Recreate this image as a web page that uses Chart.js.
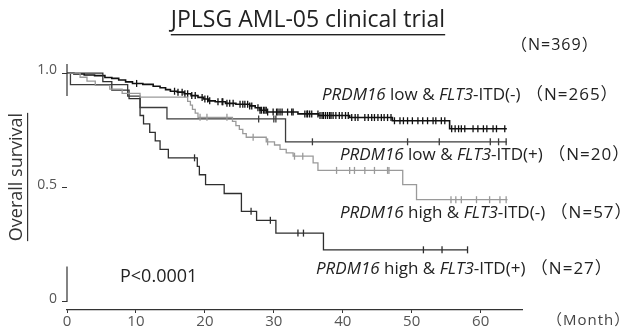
<!DOCTYPE html>
<html>
<head>
<meta charset="utf-8">
<script src="https://cdn.jsdelivr.net/npm/chart.js@4.4.0/dist/chart.umd.min.js"></script>
<style>
  body { margin: 0; background: #fff; }
  #wrap { width: 628px; height: 328px; position: relative; }
</style>
</head>
<body>
<div id="wrap"><canvas id="km"></canvas></div>
<script>
// tick values and labels
var xTicks = [0, 10, 20, 30, 40, 50, 60];
var yTicks = [0, 0.5, 1.0];
var yTickLabels = ["0", "0.5", "1.0"];

// PRDM16 low & FLT3-ITD(-)  N=265
var lowNegTime = [0, 1.0, 2.5, 4.0, 5.5, 6.5, 7.5, 8.5, 9.5, 11.0, 12.5, 13.5, 14.3, 15.0, 16.0, 17.0, 18.0, 19.0, 19.8, 20.5, 21.5, 23.0, 24.5, 26.5, 27.3, 28.0, 29.0, 33.5, 36.5, 41.0, 47.2, 55.5, 63.8];
var lowNegSurv = [1.0, 0.996, 0.992, 0.989, 0.981, 0.977, 0.970, 0.962, 0.955, 0.951, 0.943, 0.936, 0.928, 0.921, 0.917, 0.910, 0.902, 0.894, 0.887, 0.879, 0.875, 0.868, 0.864, 0.857, 0.849, 0.838, 0.830, 0.822, 0.815, 0.806, 0.792, 0.757, 0.757];
var lowNegCens = [10.1, 15.6, 16.1, 16.7, 17.1, 17.5, 18.1, 18.6, 19.6, 20.0, 20.4, 20.7, 21.9, 22.5, 22.6, 23.2, 23.6, 24.1,
  25.1, 25.5, 25.8, 26.2, 26.5, 26.8, 27.7, 28.0, 28.2, 28.5, 28.7, 28.9, 29.1, 29.9, 30.4, 30.6, 30.9, 31.2, 32.0, 32.6, 32.8,
  34.5, 34.8, 34.9, 35.2, 35.5, 36.4, 36.7, 37.0, 37.2, 37.5, 37.8, 38.1, 38.3, 38.6, 39.0, 39.5, 39.9, 40.4, 40.8, 41.3, 41.8, 42.2,
  43.2, 43.7, 44.2, 44.6, 45.1, 45.6, 46.0, 46.5, 47.0, 47.5, 48.3, 48.8, 49.4, 50.1, 50.9, 51.6, 52.3, 53.1, 53.5, 54.3, 54.8,
  55.8, 56.3, 56.8, 57.2, 57.7, 58.9, 59.6, 60.4, 60.9, 61.8, 62.3, 63.5];

// PRDM16 low & FLT3-ITD(+)  N=20
var lowPosTime = [0, 0.5, 8.8, 10.6, 14.5, 31.7, 63.8];
var lowPosSurv = [1.0, 0.95, 0.90, 0.85, 0.80, 0.70, 0.70];
var lowPosCens = [27.8, 30.0, 30.3, 35.6, 49.4, 54.0, 61.4, 62.6, 63.7];

// PRDM16 high & FLT3-ITD(-)  N=57
var highNegTime = [0, 1.9, 2.9, 4.1, 6.2, 8.0, 10.6, 17.5, 17.9, 18.2, 18.6, 19.0, 24.0, 24.5, 25.0, 25.5, 26.0, 28.9, 30.1, 30.9, 31.8, 32.8, 35.7, 36.4, 48.7, 50.7, 63.9];
var highNegSurv = [1.0, 0.982, 0.965, 0.947, 0.930, 0.912, 0.895, 0.877, 0.860, 0.842, 0.825, 0.807, 0.789, 0.771, 0.754, 0.736, 0.720, 0.700, 0.686, 0.667, 0.652, 0.637, 0.608, 0.575, 0.513, 0.447, 0.447];
var highNegCens = [19.3, 20.3, 23.2, 27.0, 29.1, 33.0, 34.2, 39.1, 41.0, 41.7, 43.2, 44.6, 46.5, 46.7, 55.7, 56.4, 57.2, 59.4, 61.3, 62.8, 63.7];

// PRDM16 high & FLT3-ITD(+)  N=27
var highPosTime = [0, 5.2, 6.5, 9.0, 10.6, 11.1, 12.0, 12.8, 13.5, 14.7, 18.9, 19.2, 20.1, 22.8, 25.3, 27.5, 30.3, 37.2, 58.1];
var highPosSurv = [1.0, 0.963, 0.926, 0.889, 0.815, 0.778, 0.741, 0.704, 0.667, 0.630, 0.593, 0.556, 0.513, 0.474, 0.396, 0.357, 0.301, 0.228, 0.228];
var highPosCens = [18.5, 26.7, 29.5, 33.5, 34.3, 51.7, 54.4, 58.1];

function steps(times, surv) {
  return times.map(function (t, i) { return { x: t, y: surv[i] }; });
}
function survAt(times, surv, t) {
  var s = surv[0];
  for (var i = 0; i < times.length; i++) {
    if (times[i] <= t) s = surv[i];
  }
  return s;
}
function censors(times, surv, cens) {
  return cens.map(function (t) { return { x: t, y: survAt(times, surv, t) }; });
}

function curve(times, surv, color, width) {
  return {
    data: steps(times, surv), stepped: true, borderColor: color, borderWidth: width,
    pointRadius: 0, fill: false
  };
}
function marks(times, surv, cens, color) {
  return {
    data: censors(times, surv, cens), showLine: false, pointStyle: 'line', rotation: 90,
    pointRadius: 3.5, borderColor: color, borderWidth: 1.3, backgroundColor: color
  };
}

var textFont = '"Open Sans", "Noto Sans CJK JP", sans-serif';

// text runs: [text, italic, letter spacing]
var labels = [
  { x: 322, y: 95, parts: [["PRDM16", true], [" low & ", false], ["FLT3", true], ["-ITD(-)", false], [" （N=265）", false, 1]] },
  { x: 340, y: 155, parts: [["PRDM16", true], [" low & ", false], ["FLT3", true], ["-ITD(+)", false], [" （N=20）", false, 1]] },
  { x: 340, y: 213, parts: [["PRDM16", true], [" high & ", false], ["FLT3", true], ["-ITD(-)", false], [" （N=57）", false, 1]] },
  { x: 316, y: 269, parts: [["PRDM16", true], [" high & ", false], ["FLT3", true], ["-ITD(+)", false], [" （N=27）", false, 1]] }
];

var decor = {
  id: 'decor',
  afterDraw: function (chart) {
    var ctx = chart.ctx;
    var ys = chart.scales.y;
    var left = chart.chartArea.left;
    ctx.save();
    // broken y axis
    ctx.strokeStyle = '#333';
    ctx.lineWidth = 1.2;
    ctx.beginPath();
    ctx.moveTo(left, ys.getPixelForValue(1.04));
    ctx.lineTo(left, ys.getPixelForValue(0.9));
    ctx.moveTo(left, ys.getPixelForValue(0.155));
    ctx.lineTo(left, ys.getPixelForValue(0));
    ctx.stroke();

    ctx.fillStyle = '#222';
    ctx.textBaseline = 'middle';
    // title
    ctx.font = '23px ' + textFont;
    ctx.textAlign = 'center';
    var title = 'JPLSG AML-05 clinical trial';
    var tw = ctx.measureText(title).width;
    ctx.fillText(title, 308, 20);
    ctx.fillRect(308 - tw / 2, 34, tw, 1.4);

    ctx.font = '16px ' + textFont;
    ctx.textAlign = 'left';
    ctx.letterSpacing = '1px';
    ctx.fillText('（N=369）', 511, 45);
    ctx.letterSpacing = '0px';

    // y title
    ctx.save();
    ctx.translate(17, 177);
    ctx.rotate(-Math.PI / 2);
    ctx.font = '18px ' + textFont;
    ctx.textAlign = 'center';
    ctx.fillStyle = '#333';
    var yt = 'Overall survival';
    var yw = ctx.measureText(yt).width;
    ctx.fillText(yt, 0, 0);
    ctx.fillRect(-yw / 2, 10, yw, 1.2);
    ctx.restore();

    // curve labels
    labels.forEach(function (lb) {
      var x = lb.x;
      lb.parts.forEach(function (p) {
        ctx.font = (p[1] ? 'italic ' : '') + '17px ' + textFont;
        ctx.letterSpacing = (p[2] || 0) + 'px';
        ctx.textAlign = 'left';
        ctx.fillText(p[0], x, lb.y);
        x += ctx.measureText(p[0]).width;
      });
      ctx.letterSpacing = '0px';
    });

    ctx.font = '18px ' + textFont;
    ctx.fillText('P<0.0001', 120, 277);

    ctx.fillStyle = '#444';
    ctx.font = '15px ' + textFont;
    ctx.letterSpacing = '1px';
    ctx.fillText('（Month）', 547, 321);
    ctx.letterSpacing = '0px';
    ctx.restore();
  }
};

new Chart(document.getElementById('km'), {
  type: 'line',
  data: {
    datasets: [
      curve(highNegTime, highNegSurv, '#9a9a9a', 1.3),
      marks(highNegTime, highNegSurv, highNegCens, '#9a9a9a'),
      curve(lowPosTime, lowPosSurv, '#3c3c3c', 1.3),
      marks(lowPosTime, lowPosSurv, lowPosCens, '#3c3c3c'),
      curve(highPosTime, highPosSurv, '#2e2e2e', 1.3),
      marks(highPosTime, highPosSurv, highPosCens, '#2e2e2e'),
      curve(lowNegTime, lowNegSurv, '#111', 1.6),
      marks(lowNegTime, lowNegSurv, lowNegCens, '#111')
    ]
  },
  options: {
    responsive: true,
    maintainAspectRatio: false,
    animation: false,
    layout: { padding: { top: 64, right: 106, left: 0, bottom: 0 } },
    plugins: { legend: { display: false }, title: { display: false }, tooltip: { enabled: false } },
    scales: {
      x: {
        type: 'linear', min: 0, max: 66,
        afterFit: function (s) { s.height = 18; },
        afterBuildTicks: function (s) { s.ticks = xTicks.map(function (v) { return { value: v }; }); },
        grid: { drawOnChartArea: false, tickLength: 3, color: '#333' },
        border: { color: '#333', width: 1.2 },
        ticks: { color: '#555', padding: 0, font: { size: 15, family: textFont }, maxRotation: 0 }
      },
      y: {
        type: 'linear', min: -0.035, max: 1.04,
        afterFit: function (s) { s.width = 67; },
        afterBuildTicks: function (s) { s.ticks = yTicks.map(function (v) { return { value: v }; }); },
        grid: { drawOnChartArea: false, tickLength: 5, color: '#333' },
        border: { display: false },
        ticks: {
          color: '#555', padding: 5, labelOffset: -3, font: { size: 14, family: textFont },
          callback: function (v) { return yTickLabels[yTicks.indexOf(v)]; }
        }
      }
    }
  },
  plugins: [decor]
});
</script>
</body>
</html>
